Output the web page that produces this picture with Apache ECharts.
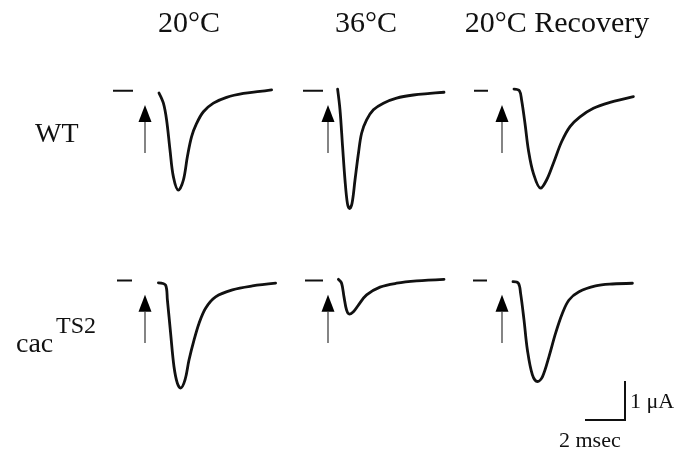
<!DOCTYPE html>
<html>
<head>
<meta charset="utf-8">
<script src="https://cdn.jsdelivr.net/npm/echarts@6/dist/echarts.min.js"></script>
<style>
html,body{margin:0;padding:0;background:#fff;}
#chart{width:693px;height:453px;}
</style>
</head>
<body>
<div id="chart"></div>
<script>
// ---- Column / row labels ----
const columnTitles = ['20°C', '36°C', '20°C Recovery'];
const rowLabels = ['WT', 'cac'];
const rowLabelSup = 'TS2';
const scaleLabels = ['1 μA', '2 msec'];
const scaleTimeMs = 2;      // horizontal scale bar (msec)
const scaleCurrentUA = 1;   // vertical scale bar (µA)

// ---- Traces: time (ms after stimulus) and current (µA relative to baseline) ----
const wt20_t = [0.70, 0.92, 1.08, 1.25, 1.42, 1.67, 1.92, 2.12, 2.33, 2.58, 2.92, 3.42, 4.08, 4.92, 5.75, 6.33];
const wt20_i = [-0.06, -0.32, -0.75, -1.52, -2.21, -2.55, -2.29, -1.69, -1.18, -0.84, -0.54, -0.32, -0.17, -0.07, -0.02, 0.02];

const wt36_t = [0.48, 0.60, 0.73, 0.85, 0.97, 1.07, 1.20, 1.35, 1.52, 1.68, 1.93, 2.27, 2.77, 3.43, 4.27, 5.10, 5.80];
const wt36_i = [0.04, -0.49, -1.44, -2.29, -2.89, -3.02, -2.89, -2.29, -1.61, -1.09, -0.75, -0.49, -0.32, -0.19, -0.11, -0.07, -0.04];

const wtRec_t = [0.60, 0.87, 0.98, 1.15, 1.32, 1.57, 1.93, 2.23, 2.57, 2.98, 3.40, 3.90, 4.57, 5.40, 6.57];
const wtRec_i = [0.04, 0.00, -0.24, -0.84, -1.52, -2.12, -2.50, -2.29, -1.86, -1.31, -0.92, -0.67, -0.45, -0.30, -0.15];

const cac20_t = [0.67, 1.03, 1.12, 1.28, 1.45, 1.62, 1.78, 2.00, 2.20, 2.45, 2.70, 3.03, 3.53, 4.37, 5.37, 6.53];
const cac20_i = [-0.06, -0.12, -0.50, -1.35, -2.21, -2.64, -2.76, -2.55, -2.04, -1.53, -1.10, -0.71, -0.42, -0.24, -0.14, -0.07];

const cac36_t = [0.52, 0.68, 0.80, 0.93, 1.07, 1.27, 1.52, 1.93, 2.60, 3.43, 4.43, 5.80];
const cac36_i = [0.03, -0.07, -0.42, -0.76, -0.86, -0.80, -0.63, -0.37, -0.17, -0.07, -0.01, 0.03];

const cacRec_t = [0.55, 0.82, 0.93, 1.10, 1.27, 1.52, 1.77, 2.02, 2.35, 2.68, 3.02, 3.35, 3.85, 4.68, 5.52, 6.52];
const cacRec_i = [-0.03, -0.07, -0.33, -1.01, -1.78, -2.42, -2.59, -2.47, -1.95, -1.35, -0.84, -0.50, -0.29, -0.14, -0.09, -0.07];

// baseline marker (dash) start/end times (ms) for each panel
const dashStart = [-1.60, -1.25, -1.40, -1.40, -1.15, -1.45];
const dashEnd   = [-0.60, -0.25, -0.70, -0.65, -0.25, -0.75];

// stimulus arrow: time, shaft bottom, shaft top, head centre (µA)
const arrowTime = 0;
const arrowBottom = -1.60;
const arrowShaftTop = -0.80;
const arrowHeadCenter = -0.585;

const traces = [
  [wt20_t, wt20_i], [wt36_t, wt36_i], [wtRec_t, wtRec_i],
  [cac20_t, cac20_i], [cac36_t, cac36_i], [cacRec_t, cacRec_i]
];

// ---- layout ----
const pxPerMs = 20, pxPerUA = 39;
const xMin = -2, xMax = 7, yMin = -3.5, yMax = 0.5;
const colArrowX = [145, 328, 502];
const rowBaseY = [90.7, 280.5];

const zip = (a, b) => a.map((v, k) => [v, b[k]]);

const grids = [], xAxes = [], yAxes = [], series = [];
traces.forEach((tr, p) => {
  const r = Math.floor(p / 3), c = p % 3;
  grids.push({
    left: colArrowX[c] - (0 - xMin) * pxPerMs,
    top: rowBaseY[r] - yMax * pxPerUA,
    width: (xMax - xMin) * pxPerMs,
    height: (yMax - yMin) * pxPerUA,
    containLabel: false
  });
  xAxes.push({ type: 'value', gridIndex: p, min: xMin, max: xMax, show: false });
  yAxes.push({ type: 'value', gridIndex: p, min: yMin, max: yMax, show: false });
  // trace
  series.push({
    type: 'line', xAxisIndex: p, yAxisIndex: p, data: zip(tr[0], tr[1]),
    showSymbol: false, symbol: 'none', smooth: 0.35, silent: true,
    lineStyle: { color: '#111', width: 2.8, cap: 'round', join: 'round' }
  });
  // baseline dash
  series.push({
    type: 'line', xAxisIndex: p, yAxisIndex: p,
    data: [[dashStart[p], 0], [dashEnd[p], 0]],
    symbol: 'none', silent: true,
    lineStyle: { color: '#111', width: 2 }
  });
  // arrow shaft
  series.push({
    type: 'line', xAxisIndex: p, yAxisIndex: p,
    data: [[arrowTime, arrowBottom], [arrowTime, arrowShaftTop]],
    symbol: 'none', silent: true,
    lineStyle: { color: '#333', width: 1.2 }
  });
  // arrow head
  series.push({
    type: 'scatter', xAxisIndex: p, yAxisIndex: p,
    data: [[arrowTime, arrowHeadCenter]],
    symbol: 'triangle', symbolSize: [13, 17], silent: true,
    itemStyle: { color: '#000', opacity: 1 }
  });
});

// scale bar grid
const sIdx = grids.length;
grids.push({ left: 585, top: 381, width: scaleTimeMs * pxPerMs, height: scaleCurrentUA * pxPerUA, containLabel: false });
xAxes.push({ type: 'value', gridIndex: sIdx, min: 0, max: scaleTimeMs, show: false });
yAxes.push({ type: 'value', gridIndex: sIdx, min: 0, max: scaleCurrentUA, show: false });
series.push({
  type: 'line', xAxisIndex: sIdx, yAxisIndex: sIdx,
  data: [[0, 0], [scaleTimeMs, 0], [scaleTimeMs, scaleCurrentUA]],
  symbol: 'none', silent: true,
  lineStyle: { color: '#111', width: 2, join: 'miter' }
});

const serif = '"Liberation Serif", "DejaVu Serif", serif';
const textColor = '#111';
const titleX = [189, 366, 557];
const graphic = [];
columnTitles.forEach((t, k) => graphic.push({
  type: 'text', x: titleX[k], y: 24, silent: true,
  style: { text: t, font: '30px ' + serif, fill: textColor, align: 'center', verticalAlign: 'middle' }
}));
graphic.push({ type: 'text', x: 35, y: 135, silent: true,
  style: { text: rowLabels[0], font: '28px ' + serif, fill: textColor, align: 'left', verticalAlign: 'middle' } });
graphic.push({ type: 'text', x: 16, y: 345, silent: true,
  style: { text: rowLabels[1], font: '28px ' + serif, fill: textColor, align: 'left', verticalAlign: 'middle' } });
graphic.push({ type: 'text', x: 56, y: 327, silent: true,
  style: { text: rowLabelSup, font: '24px ' + serif, fill: textColor, align: 'left', verticalAlign: 'middle' } });
graphic.push({ type: 'text', x: 630, y: 402, silent: true,
  style: { text: scaleLabels[0], font: '22px ' + serif, fill: textColor, align: 'left', verticalAlign: 'middle' } });
graphic.push({ type: 'text', x: 559, y: 441, silent: true,
  style: { text: scaleLabels[1], font: '22px ' + serif, fill: textColor, align: 'left', verticalAlign: 'middle' } });

const chart = echarts.init(document.getElementById('chart'), null, { renderer: 'canvas' });
chart.setOption({
  backgroundColor: '#fff',
  animation: false,
  grid: grids, xAxis: xAxes, yAxis: yAxes, series: series,
  graphic: graphic
});
</script>
</body>
</html>
